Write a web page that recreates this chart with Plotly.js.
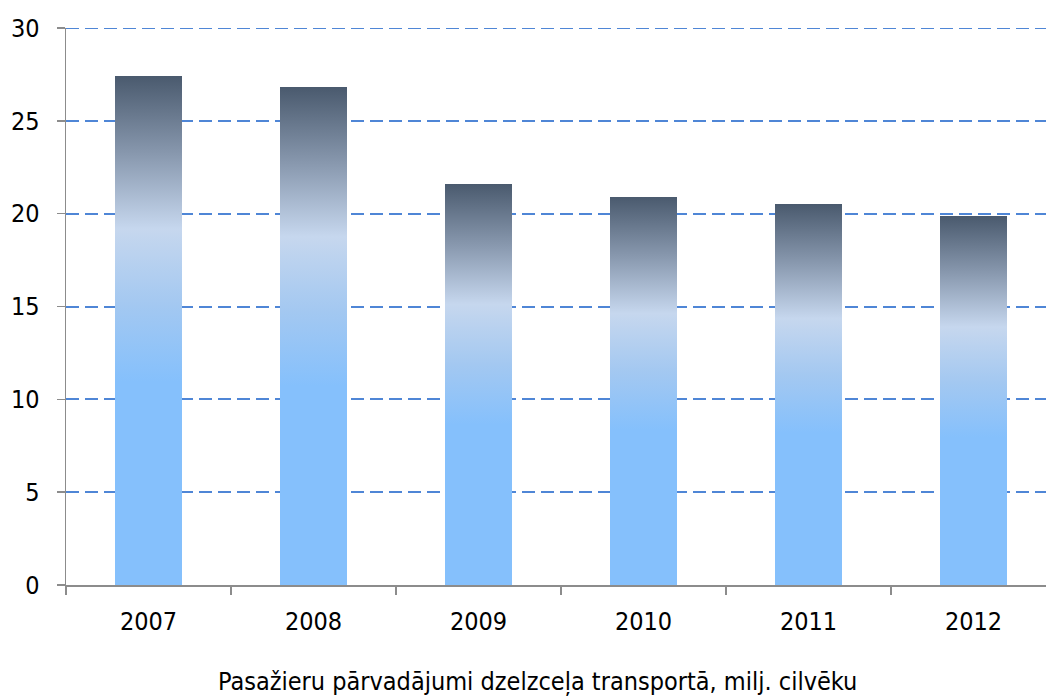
<!DOCTYPE html>
<html>
<head>
<meta charset="utf-8">
<script src="https://cdn.plot.ly/plotly-3.0.1.min.js"></script>
<style>html,body{margin:0;padding:0;background:#fff;}#chart{width:1046px;height:700px;}</style>
</head>
<body>
<div id="chart"></div>
<script>
var years = ['2007', '2008', '2009', '2010', '2011', '2012'];
var passengers = [27.4, 26.8, 21.6, 20.9, 20.5, 19.85];
var yTicks = [0, 5, 10, 15, 20, 25, 30];
var chartTitle = 'Pasažieru pārvadājumi dzelzceļa transportā, milj. cilvēku';

var FONT = '"DejaVu Sans Condensed", "DejaVu Sans", sans-serif';
var GRID = '#4f86d6';

var trace = {
  type: 'bar',
  x: years,
  y: passengers,
  width: 0.41,
  marker: {color: '#85c0fc', line: {width: 0}},
  hoverinfo: 'x+y'
};

var layout = {
  width: 1046,
  height: 700,
  margin: {l: 66, r: 0, t: 28, b: 115},
  paper_bgcolor: '#ffffff',
  plot_bgcolor: '#ffffff',
  showlegend: false,
  font: {family: FONT, size: 25, color: '#000000'},
  title: {
    text: chartTitle,
    font: {family: FONT, size: 25, color: '#000'},
    xref: 'container', x: 0.514, xanchor: 'center',
    yref: 'container', y: 0.027, yanchor: 'middle'
  },
  xaxis: {
    type: 'category',
    range: [-0.5, 5.439],
    tickson: 'boundaries',
    ticks: 'outside',
    ticklen: 8,
    tickwidth: 1.5,
    tickcolor: '#8c8c8c',
    showline: true,
    linecolor: '#8c8c8c',
    linewidth: 1.5,
    showgrid: false,
    zeroline: false,
    ticklabelstandoff: 13,
    tickfont: {family: FONT, size: 25, color: '#000'}
  },
  yaxis: {
    range: [0, 30],
    tickvals: yTicks,
    ticks: 'outside',
    ticklen: 8,
    tickwidth: 1.5,
    tickcolor: '#8c8c8c',
    showline: true,
    linecolor: '#8c8c8c',
    linewidth: 1.5,
    showgrid: true,
    gridcolor: GRID,
    gridwidth: 2,
    griddash: '13px,6px',
    zeroline: false,
    ticklabelstandoff: 12,
    tickfont: {family: FONT, size: 25, color: '#000'}
  },
  shapes: [{
    type: 'line', layer: 'below',
    xref: 'paper', x0: 0, x1: 1,
    yref: 'y', y0: yTicks[yTicks.length - 1], y1: yTicks[yTicks.length - 1],
    line: {color: GRID, width: 2, dash: '13px,6px'}
  }],
  bargap: 0
};

Plotly.newPlot('chart', [trace], layout, {displayModeBar: false, staticPlot: true}).then(function (gd) {
  var svg = gd.querySelector('svg.main-svg');
  var ns = 'http://www.w3.org/2000/svg';
  var defs = svg.querySelector('defs') || svg.insertBefore(document.createElementNS(ns, 'defs'), svg.firstChild);
  var grad = document.createElementNS(ns, 'linearGradient');
  grad.setAttribute('id', 'barGrad');
  grad.setAttribute('x1', '0'); grad.setAttribute('y1', '1');
  grad.setAttribute('x2', '0'); grad.setAttribute('y2', '0');
  var stops = [[0, '#85c0fc'], [0.40, '#85c0fc'], [0.55, '#a3c8f1'], [0.70, '#c6d7ee'], [0.85, '#8797ad'], [1, '#4a5a6e']];
  stops.forEach(function (s) {
    var st = document.createElementNS(ns, 'stop');
    st.setAttribute('offset', s[0]);
    st.setAttribute('stop-color', s[1]);
    grad.appendChild(st);
  });
  defs.appendChild(grad);
  gd.querySelectorAll('.bars .point path').forEach(function (p) {
    p.style.fill = 'url(#barGrad)';
  });
});
</script>
</body>
</html>
